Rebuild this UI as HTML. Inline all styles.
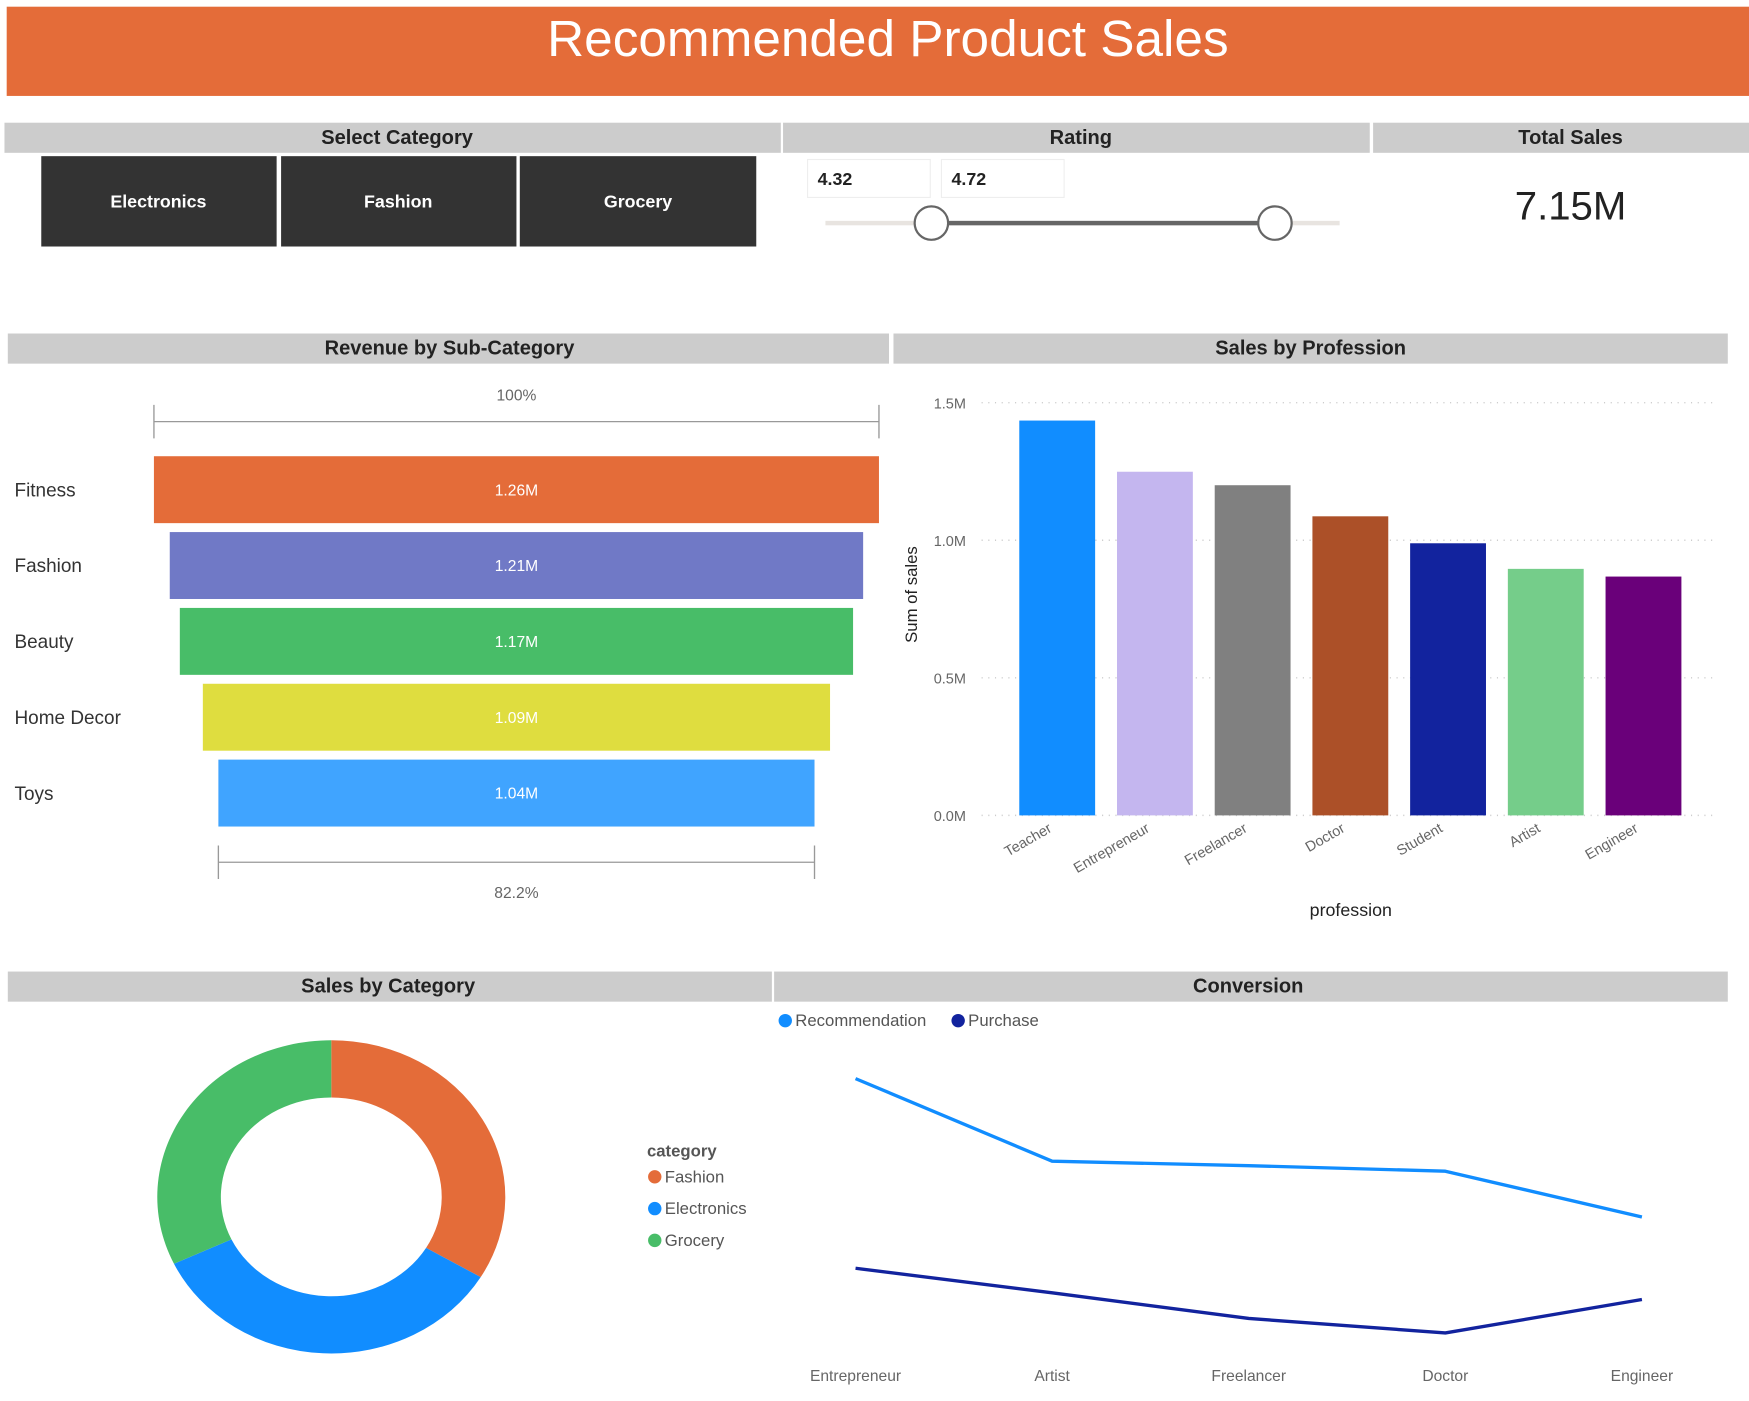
<!DOCTYPE html>
<html><head><meta charset="utf-8"><style>
html,body{margin:0;padding:0;background:#fff;overflow:hidden}
svg{display:block}
text{font-family:"Liberation Sans",sans-serif}
</style></head><body>
<svg id="root" width="1749" height="1401" viewBox="0 0 1568 1256" preserveAspectRatio="none">
<rect x="6" y="6" width="1562" height="80" fill="#E46C39"/>
<text x="796" y="50" text-anchor="middle" font-size="46" fill="#fff">Recommended Product Sales</text>
<g font-weight="bold" font-size="18" fill="#222" text-anchor="middle">
<rect x="4" y="110" width="696" height="27" fill="#CCCCCC"/>
<text x="356" y="129">Select Category</text>
<rect x="702" y="110" width="526" height="27" fill="#CCCCCC"/>
<text x="969" y="129">Rating</text>
<rect x="1231" y="110" width="337" height="27" fill="#CCCCCC"/>
<text x="1408" y="129">Total Sales</text>
<rect x="7" y="299" width="790" height="27" fill="#CCCCCC"/>
<text x="403" y="318">Revenue by Sub-Category</text>
<rect x="801" y="299" width="748" height="27" fill="#CCCCCC"/>
<text x="1175" y="318">Sales by Profession</text>
<rect x="7" y="871" width="685" height="27" fill="#CCCCCC"/>
<text x="348" y="890">Sales by Category</text>
<rect x="694" y="871" width="855" height="27" fill="#CCCCCC"/>
<text x="1119" y="890">Conversion</text>
</g>
<g font-weight="bold" font-size="16" fill="#fff" text-anchor="middle">
<rect x="37" y="140" width="211" height="81" fill="#333"/>
<text x="142" y="186">Electronics</text>
<rect x="252" y="140" width="211" height="81" fill="#333"/>
<text x="357" y="186">Fashion</text>
<rect x="466" y="140" width="212" height="81" fill="#333"/>
<text x="572" y="186">Grocery</text>
</g>
<rect x="724" y="143" width="110" height="34" fill="#fff" stroke="#eee"/>
<text x="733" y="166" font-size="16" font-weight="bold" fill="#222">4.32</text>
<rect x="844" y="143" width="110" height="34" fill="#fff" stroke="#eee"/>
<text x="853" y="166" font-size="16" font-weight="bold" fill="#222">4.72</text>
<rect x="740" y="198" width="461" height="4" fill="#E8E4E0"/>
<rect x="835" y="198" width="308" height="4" fill="#666"/>
<circle cx="835" cy="200" r="15" fill="#fff" stroke="#666" stroke-width="2"/>
<circle cx="1143" cy="200" r="15" fill="#fff" stroke="#666" stroke-width="2"/>
<text x="1408" y="197" text-anchor="middle" font-size="36" fill="#222">7.15M</text>
<g id="funnel"></g>
<g id="bars"></g>
<g id="donut"></g>
<g id="lines"></g>
</svg>
<script>
const NS="http://www.w3.org/2000/svg";
function mk(parent,tag,attrs,txt){const e=document.createElementNS(NS,tag);for(const k in attrs)e.setAttribute(k,attrs[k]);if(txt!==undefined)e.textContent=txt;parent.appendChild(e);return e;}

// Funnel data
const funnelCats=["Fitness","Fashion","Beauty","Home Decor","Toys"];
const funnelVals=[1.26,1.205,1.17,1.09,1.036];
const funnelColors=["#E46C39","#7079C6","#48BD68","#DFDD3F","#40A4FF"];
// Bar data
const profCats=["Teacher","Entrepreneur","Freelancer","Doctor","Student","Artist","Engineer"];
const profVals=[1.435,1.249,1.2,1.087,0.989,0.896,0.868];
const profColors=["#118DFF","#C4B6EF","#808080","#AC5028","#12239E","#75CD8A","#6A007A"];
const profTicks=[0,0.5,1.0,1.5];
const profTickLabels=["0.0M","0.5M","1.0M","1.5M"];
// Donut data
const donutCats=["Fashion","Electronics","Grocery"];
const donutVals=[2.40,2.46,2.29];
const donutColors=["#E46C39","#118DFF","#48BD68"];
// Line data
const convCats=["Entrepreneur","Artist","Freelancer","Doctor","Engineer"];
const recVals=[283,209,205,200,159];
const purVals=[113,91,68,55,85];

// Funnel
(function(){
 const g=document.getElementById('funnel');
 const cx=463,maxW=650,top=409,pitch=68,h=60;
 const w=v=>maxW*v/funnelVals[0];
 const pct=(funnelVals[funnelVals.length-1]/funnelVals[0]*100).toFixed(1)+"%";
 let e=mk(g,'text',{x:cx,y:359,'text-anchor':'middle','font-size':14,fill:'#666'},"100%");
 
 
 const w0=w(funnelVals[0]);
 e=mk(g,'path',{d:`M${cx-w0/2} 378H${cx+w0/2}M${cx-w0/2} 363V393M${cx+w0/2} 363V393`,stroke:'#999','stroke-width':1.2,fill:'none'});
 
 
 funnelVals.forEach((v,i)=>{
  const y=top+i*pitch,ww=w(v);
  let r=mk(g,'rect',{x:cx-ww/2,y:y,width:ww,height:h,fill:funnelColors[i]});
  
  
  let t=mk(g,'text',{x:cx,y:y+h/2+5,'text-anchor':'middle','font-size':14,fill:'#fff'},v.toFixed(2)+"M");
  
  
  let l=mk(g,'text',{x:13,y:y+h/2+6,'font-size':17,fill:'#333'},funnelCats[i]);
  
  
 });
 const wl=w(funnelVals[funnelVals.length-1]);
 e=mk(g,'path',{d:`M${cx-wl/2} 773H${cx+wl/2}M${cx-wl/2} 758V788M${cx+wl/2} 758V788`,stroke:'#999','stroke-width':1.2,fill:'none'});
 
 
 e=mk(g,'text',{x:cx,y:805,'text-anchor':'middle','font-size':14,fill:'#666'},pct);
 
 
})();

// Bars
(function(){
 const g=document.getElementById('bars');
 const y0=731,y1=361,vmax=1.5;
 const ys=v=>y0-(v/vmax)*(y0-y1);
 const x0=904,pitch=87.6,bw=68;
 const xs=i=>x0+pitch*i+pitch/2;
 profTicks.forEach((t,i)=>{
  let l=mk(g,'line',{x1:880,x2:1540,y1:ys(t),y2:ys(t),stroke:'#ccc','stroke-dasharray':'1 5','stroke-width':1.3});
  
  
  let tx=mk(g,'text',{x:866,y:ys(t)+5,'text-anchor':'end','font-size':13,fill:'#666'},profTickLabels[i]);
  
  
 });
 profVals.forEach((v,i)=>{
  const cx=xs(i);
  let r=mk(g,'rect',{x:cx-bw/2,y:ys(v),width:bw,height:y0-ys(v),fill:profColors[i]});
  
  
  let t=mk(g,'text',{x:cx-4,y:745,'text-anchor':'end','font-size':13,fill:'#666',transform:`rotate(-30 ${cx-4} 745)`},profCats[i]);
  
  
 });
 let a=mk(g,'text',{x:822,y:533,'text-anchor':'middle','font-size':15,fill:'#222',transform:'rotate(-90 822 533)'},"Sum of sales");
 
 
 a=mk(g,'text',{x:1211,y:821,'text-anchor':'middle','font-size':16,fill:'#222'},"profession");
 
 
})();

// Donut
(function(){
 const g=document.getElementById('donut');
 const cx=297,cy=1073,R=156,r=99;
 const ring=mk(g,'g',{transform:`translate(${cx} ${cy}) scale(1 0.9) translate(${-cx} ${-cy})`});
 
 
 const tot=donutVals.reduce((a,b)=>a+b,0);
 let a0=0;
 const pt=(ang,rad)=>[cx+rad*Math.sin(ang),cy-rad*Math.cos(ang)];
 donutVals.forEach((v,i)=>{
  const a1=a0+v/tot*2*Math.PI;
  const large=(a1-a0)>Math.PI?1:0;
  const [x1,y1]=pt(a0,R),[x2,y2]=pt(a1,R),[x3,y3]=pt(a1,r),[x4,y4]=pt(a0,r);
  let p=mk(ring,'path',{d:`M${x1} ${y1}A${R} ${R} 0 ${large} 1 ${x2} ${y2}L${x3} ${y3}A${r} ${r} 0 ${large} 0 ${x4} ${y4}Z`,fill:donutColors[i]});
  
  
  a0=a1;
 });
 let t=mk(g,'text',{x:580,y:1037,'font-size':15,'font-weight':'bold',fill:'#555'},"category");
 
 
 donutCats.forEach((c,i)=>{
  const y=1055+i*28.5;
  let d=mk(g,'circle',{cx:587,cy:y,r:6,fill:donutColors[i]});
  
  
  let l=mk(g,'text',{x:596,y:y+5,'font-size':15,fill:'#555'},c);
  
  
 });
})();

// Lines
(function(){
 const g=document.getElementById('lines');
 const xs=i=>767+i*176.25;
 const ys=v=>1250-v;
 [[recVals,'#118DFF','recommendation'],[purVals,'#12239E','purchase']].forEach(([vals,col,nm])=>{
  const d=vals.map((v,i)=>(i?'L':'M')+xs(i)+' '+ys(v)).join('');
  let p=mk(g,'path',{d:d,stroke:col,'stroke-width':3,fill:'none','stroke-linejoin':'round'});
  
  
 });
 convCats.forEach((c,i)=>{
  let t=mk(g,'text',{x:xs(i),y:1238,'text-anchor':'middle','font-size':14,fill:'#666'},c);
  
  
 });
 [["Recommendation",'#118DFF',704],["Purchase",'#12239E',859]].forEach(([n,c,x])=>{
  let d=mk(g,'circle',{cx:x,cy:915,r:6,fill:c});
  
  
  let t=mk(g,'text',{x:x+9,y:920,'font-size':15,fill:'#555'},n);
  
  
 });
})();
</script>
</body></html>
